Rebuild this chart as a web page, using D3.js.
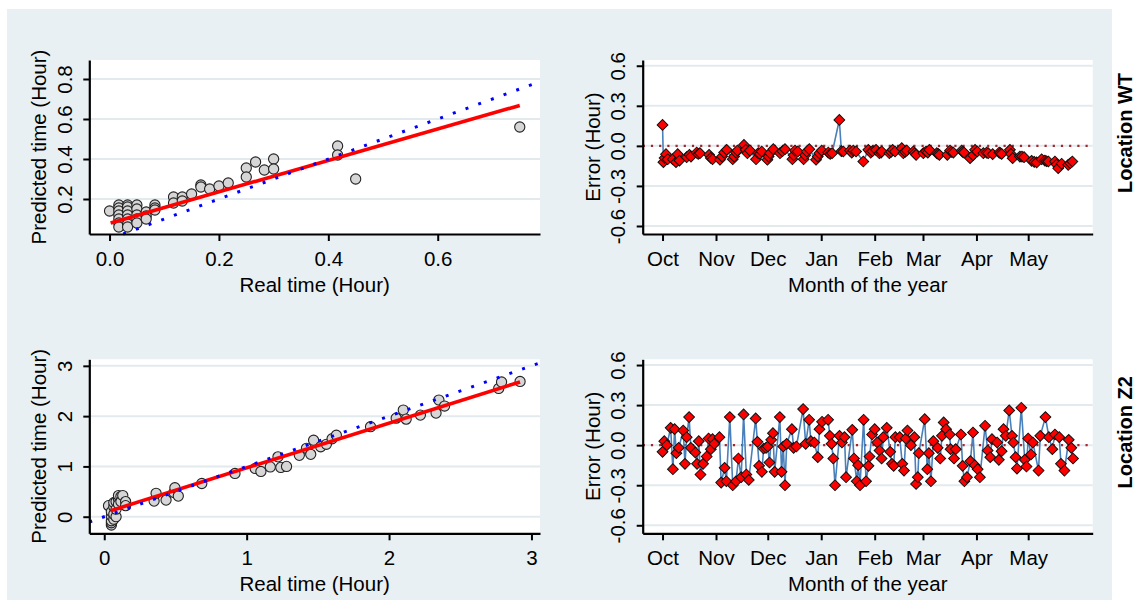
<!DOCTYPE html>
<html>
<head>
<meta charset="utf-8">
<script src="https://cdn.jsdelivr.net/npm/d3@7"></script>
<style>
  body { margin: 0; background: #fff; }
  svg text { font-family: "Liberation Sans", Arial, sans-serif; }
</style>
</head>
<body>
<div id="chart"></div>
<script>
// ---- data ----
// scatter: [real time, predicted time] in hours
const wtPoints = [
  [0.0, 0.14],
  [0.017, 0.17], [0.017, 0.155], [0.017, 0.14], [0.017, 0.12], [0.017, 0.10], [0.017, 0.08], [0.017, 0.06],
  [0.033, 0.17], [0.033, 0.16], [0.033, 0.14], [0.033, 0.12], [0.033, 0.10], [0.033, 0.075], [0.033, 0.06],
  [0.05, 0.17], [0.05, 0.15], [0.05, 0.12], [0.05, 0.10], [0.05, 0.08],
  [0.067, 0.135], [0.067, 0.115], [0.067, 0.10],
  [0.083, 0.17], [0.083, 0.155], [0.083, 0.145],
  [0.117, 0.21], [0.117, 0.18], [0.133, 0.21], [0.133, 0.19], [0.15, 0.225],
  [0.167, 0.27], [0.167, 0.26], [0.183, 0.25], [0.2, 0.265], [0.217, 0.28],
  [0.25, 0.355], [0.25, 0.31], [0.267, 0.385], [0.283, 0.345], [0.3, 0.40], [0.3, 0.35],
  [0.417, 0.465], [0.417, 0.42], [0.45, 0.30], [0.75, 0.56]
];
const z2Points = [
  [0.03, 0.22], [0.05, -0.165], [0.05, -0.12], [0.05, -0.08], [0.05, 0.02], [0.05, 0.1],
  [0.067, -0.05], [0.067, 0.05], [0.067, 0.2], [0.067, 0.28], [0.083, 0.0], [0.083, 0.15], [0.083, 0.3],
  [0.1, 0.35], [0.1, 0.42], [0.1, 0.25], [0.117, 0.4], [0.117, 0.3], [0.13, 0.42], [0.15, 0.3], [0.15, 0.22],
  [0.35, 0.31], [0.364, 0.465], [0.434, 0.33], [0.49, 0.48], [0.496, 0.577], [0.52, 0.41], [0.685, 0.66],
  [0.918, 0.86], [1.06, 0.96], [1.1, 0.9], [1.166, 0.99], [1.22, 1.19], [1.24, 0.98], [1.28, 1.0],
  [1.37, 1.22], [1.42, 1.36], [1.45, 1.24], [1.47, 1.52], [1.52, 1.39], [1.56, 1.44], [1.6, 1.55], [1.63, 1.62],
  [1.87, 1.79], [2.05, 1.96], [2.1, 2.12], [2.12, 1.94], [2.22, 2.02], [2.33, 2.06], [2.35, 2.32], [2.39, 2.2],
  [2.77, 2.55], [2.79, 2.68], [2.92, 2.69]
];
// linear fit end points [real, predicted]
const wtFit = [[0.002, 0.08], [0.75, 0.668]];
const z2Fit = [[0.045, 0.12], [2.92, 2.68]];

// error series: [days since 1 Oct, error in hours]
const wtErrors = [
  [0, 0.157], [0.5, -0.122], [1.2, -0.09], [2, -0.062], [3, -0.1], [5.9, -0.1], [7.8, -0.122], [8.8, -0.062], [9.8, -0.11],
  [14, -0.085], [15.6, -0.067], [16.5, -0.08], [19.8, -0.05], [20.7, -0.06], [21.7, -0.055], [27, -0.067], [28, -0.09],
  [29, -0.1], [33.3, -0.104], [34.5, -0.08], [35.7, -0.05], [37.2, -0.03], [40.7, -0.1], [41.5, -0.08], [42.6, -0.05],
  [43.4, -0.035], [47.2, 0.007], [48.2, -0.03], [49.2, -0.055], [50.7, -0.035], [54.2, -0.1], [55.5, -0.055],
  [56.5, -0.06], [57.5, -0.042], [60.8, -0.104], [61.5, -0.08], [62.3, -0.055], [64.2, -0.025], [68.1, -0.055],
  [69.5, -0.04], [71, -0.025], [75.3, -0.1], [76, -0.07], [76.8, -0.035], [78.4, -0.042], [81.8, -0.1], [82.7, -0.07],
  [83.6, -0.042], [85.1, -0.025], [89, -0.104], [90, -0.08], [90.9, -0.055], [92.3, -0.035], [96.1, -0.05],
  [97.2, -0.06], [98.3, -0.055], [102.5, 0.194], [103.7, -0.04], [104.8, -0.042], [108.7, -0.035], [109.7, -0.05],
  [110.6, -0.035], [112.2, -0.042], [116.4, -0.117], [119.3, -0.03], [120.7, -0.05], [121.7, -0.04], [123.8, -0.03],
  [125.7, -0.055], [126.7, -0.05], [127.1, -0.042], [131.5, -0.055], [132.5, -0.045], [133.4, -0.03], [134.8, -0.042],
  [138.7, -0.017], [139.6, -0.055], [140.6, -0.045], [141.6, -0.035], [145.4, -0.042], [146.2, -0.055], [147, -0.067],
  [151.2, -0.055], [152.8, -0.042], [153.8, -0.05], [154.7, -0.03], [159, -0.055], [159.8, -0.06], [160.5, -0.067],
  [165.1, -0.067], [166.7, -0.035], [167.6, -0.045], [168.6, -0.05], [173.4, -0.035], [174, -0.045], [174.8, -0.05],
  [178.3, -0.092], [180, -0.07], [181.2, -0.03], [182.5, -0.042], [186, -0.055], [187.9, -0.05], [188.8, -0.055],
  [191.4, -0.062], [195.2, -0.05], [195.9, -0.055], [196.6, -0.06], [201.4, -0.03], [202, -0.06], [203, -0.092],
  [207.2, -0.08], [208.4, -0.08], [209.6, -0.085], [214, -0.112], [215.5, -0.12], [216.9, -0.124], [219.8, -0.1],
  [221.7, -0.11], [222.7, -0.115], [223.7, -0.117], [227.5, -0.117], [228.5, -0.14], [229.4, -0.167], [231.4, -0.134],
  [235.2, -0.142], [236.4, -0.13], [237.6, -0.117]
];
const z2Errors = [
  [0, -0.05], [1, 0.03], [2.5, 0.0], [4.7, 0.13], [6, -0.18], [7, 0.12], [8, -0.06], [9.4, -0.02], [12, 0.11],
  [13, -0.14], [14, 0.06], [15.4, 0.21], [16.4, -0.02], [19, -0.055], [20, -0.14], [21, 0.03], [22, -0.22],
  [23.5, -0.14], [25.6, -0.085], [26.7, 0.05], [28, -0.03], [29, 0.045], [30, 0.01], [33, 0.06], [34, -0.28],
  [36, -0.17], [37, -0.27], [39, 0.21], [40.7, -0.3], [42.6, -0.27], [44, -0.1], [45.6, -0.24], [47, 0.23],
  [48.6, -0.22], [50, -0.26], [54, 0.2], [55, 0.025], [56, -0.155], [57.6, -0.2], [58.6, -0.025], [60, -0.02],
  [61, -0.01], [62, -0.13], [63, 0.04], [64, 0.09], [65, -0.2], [68, 0.21], [69, -0.2], [70, -0.01], [71, -0.3],
  [72, 0.01], [75, 0.12], [76, -0.02], [77.6, -0.01], [81.5, 0.27], [83, 0.01], [85, 0.19], [86, 0.03], [88, 0.02],
  [90, -0.09], [91, 0.12], [92.5, 0.175], [96, 0.19], [97, 0.07], [98, 0.01], [99, -0.1], [100, -0.3],
  [102.6, 0.07], [104, 0.02], [105.5, 0.06], [106.4, -0.24], [110, 0.115], [111, -0.1], [112.6, -0.27],
  [113.4, -0.15], [114.5, -0.3], [116.6, 0.19], [118, -0.27], [119.4, -0.155], [120, -0.085], [121.5, 0.08],
  [123, 0.12], [124.5, 0.02], [125.8, -0.04], [127, -0.1], [128, 0.06], [130, 0.13], [132, -0.05], [133, -0.14],
  [134, -0.155], [135, 0.06], [137.5, 0.06], [139, -0.14], [140, -0.19], [141, 0.05], [142, 0.11], [144, 0.0],
  [146, 0.06], [147, -0.29], [148, -0.24], [148.6, -0.06], [152, 0.195], [153.5, -0.18], [154.4, -0.06],
  [155.6, -0.27], [157, 0.03], [159.5, -0.02], [161, -0.1], [162, 0.07], [163, 0.17], [164.4, 0.12], [166.5, 0.08],
  [167, -0.03], [169, -0.1], [170, -0.03], [173, 0.08], [174, -0.155], [175, -0.27], [176.5, -0.24], [178.5, -0.12],
  [180, 0.095], [181, -0.15], [182.7, -0.18], [184, -0.24], [187, 0.145], [188.5, -0.04], [190, -0.09], [191, 0.045],
  [194, 0.02], [195, -0.11], [196.6, -0.045], [197.7, 0.12], [199, 0.07], [201, 0.26], [202.6, 0.07], [203.4, 0.02],
  [204.7, -0.09], [205.5, -0.175], [208, 0.28], [210, -0.11], [211, -0.16], [212, 0.05], [213.6, -0.07],
  [214.7, 0.02], [218, -0.19], [219, 0.07], [222, 0.21], [224, 0.06], [226, -0.03], [227.5, 0.08], [230, 0.06],
  [231, -0.14], [233, -0.19], [235.5, 0.04], [237, -0.02], [238, -0.1]
];

const wtXTicks = [0, 0.2, 0.4, 0.6];
const wtYTicks = [0.2, 0.4, 0.6, 0.8];
const z2Ticks = [0, 1, 2, 3];
const errTicks = [-0.6, -0.3, 0, 0.3, 0.6];
const monthLabels = ['Oct', 'Nov', 'Dec', 'Jan', 'Feb', 'Mar', 'Apr', 'May'];
const locations = ['Location WT', 'Location Z2'];

// ---- layout ----
const width = 1136, height = 600;
const fontSize = 20.5;
const startDate = new Date(2018, 9, 1);
const dayToDate = d => new Date(startDate.getTime() + d * 864e5);
// one decimal, plain hyphen for negatives
const fmt1 = d => d.toFixed(1);

const svg = d3.select('#chart').append('svg')
  .attr('width', width)
  .attr('height', height);

svg.append('rect')
  .attr('x', 7).attr('y', 9)
  .attr('width', 1105).attr('height', 591)
  .attr('fill', '#e9f0f3');

const rows = [{ top: 60, bottom: 234 }, { top: 359.3, bottom: 533.3 }];
const leftBox = { left: 89.3, right: 540 };
const rightBox = { left: 642.7, right: 1092.7 };

// draws white plot area, gridlines, axes and titles; returns a group for marks
function frame(box, row, x, y, opt) {
  const g = svg.append('g');
  g.append('rect')
    .attr('x', box.left).attr('y', row.top)
    .attr('width', box.right - box.left).attr('height', row.bottom - row.top)
    .attr('fill', '#fff');

  g.selectAll('.grid')
    .data(opt.yTicks)
    .join('line')
    .attr('x1', box.left).attr('x2', box.right)
    .attr('y1', d => y(d)).attr('y2', d => y(d))
    .attr('stroke', '#e3eaee')
    .attr('stroke-width', 2);

  const marks = g.append('g');

  const yAxis = g.append('g')
    .attr('transform', `translate(${box.left},0)`)
    .call(d3.axisLeft(y).tickValues(opt.yTicks).tickFormat(opt.yFormat).tickSize(6).tickSizeOuter(0));
  yAxis.selectAll('text')
    .attr('transform', 'rotate(-90)')
    .attr('x', 0).attr('y', -17.5).attr('dy', 0)
    .attr('text-anchor', 'middle');

  const xAxis = g.append('g')
    .attr('transform', `translate(0,${row.bottom})`)
    .call(d3.axisBottom(x).tickValues(opt.xTicks).tickFormat(opt.xFormat).tickSize(7).tickSizeOuter(0));
  xAxis.selectAll('text').attr('y', 32).attr('dy', 0);

  for (const a of [xAxis, yAxis]) {
    a.attr('font-size', fontSize).attr('font-family', '"Liberation Sans", Arial, sans-serif');
    a.selectAll('text').attr('fill', '#000');
    a.selectAll('line').attr('stroke', '#000').attr('stroke-width', 2);
    a.select('.domain').attr('stroke', '#000').attr('stroke-width', 2.2);
  }

  const cy = (row.top + row.bottom) / 2;
  g.append('text')
    .attr('transform', `translate(${box.left - 43},${cy}) rotate(-90)`)
    .attr('text-anchor', 'middle')
    .attr('font-size', fontSize)
    .text(opt.yTitle);
  g.append('text')
    .attr('x', (box.left + box.right) / 2)
    .attr('y', row.bottom + 58)
    .attr('text-anchor', 'middle')
    .attr('font-size', fontSize)
    .text(opt.xTitle);

  return marks;
}

function scatterPanel(row, points, fit, xDomain, yDomain, xTicks, yTicks, fmt) {
  const x = d3.scaleLinear().domain(xDomain).range([leftBox.left, leftBox.right]);
  const y = d3.scaleLinear().domain(yDomain).range([row.bottom, row.top]);
  const g = frame(leftBox, row, x, y, {
    xTicks, yTicks, xFormat: fmt, yFormat: fmt,
    xTitle: 'Real time (Hour)', yTitle: 'Predicted time (Hour)'
  });

  g.selectAll('circle')
    .data(points)
    .join('circle')
    .attr('cx', d => x(d[0]))
    .attr('cy', d => y(d[1]))
    .attr('r', 5.1)
    .attr('fill', '#d6d6d6')
    .attr('stroke', '#222')
    .attr('stroke-width', 1.1);

  g.append('path')
    .attr('d', d3.line().x(d => x(d[0])).y(d => y(d[1]))(fit))
    .attr('stroke', '#ff0000')
    .attr('stroke-width', 3.6)
    .attr('fill', 'none');

  // y = x reference line across the plot region
  const lo = Math.max(xDomain[0], yDomain[0]);
  const hi = Math.min(xDomain[1], yDomain[1]);
  g.append('path')
    .attr('d', d3.line().x(d => x(d)).y(d => y(d))([lo, hi]))
    .attr('stroke', '#0000ff')
    .attr('stroke-width', 3)
    .attr('stroke-dasharray', '3 10.5')
    .attr('fill', 'none');
}

function errorPanel(row, series, label) {
  const x = d3.scaleTime()
    .domain([dayToDate(-11.5), dayToDate(249.4)])
    .range([rightBox.left, rightBox.right]);
  const y = d3.scaleLinear().domain([-0.66, 0.643]).range([row.bottom, row.top]);
  const months = d3.timeMonth.range(startDate, dayToDate(213));
  const g = frame(rightBox, row, x, y, {
    xTicks: months, yTicks: errTicks,
    xFormat: (d, i) => monthLabels[i], yFormat: fmt1,
    xTitle: 'Month of the year', yTitle: 'Error (Hour)'
  });

  g.append('line')
    .attr('x1', rightBox.left).attr('x2', rightBox.right)
    .attr('y1', y(0)).attr('y2', y(0))
    .attr('stroke', '#a3262e')
    .attr('stroke-width', 2.2)
    .attr('stroke-dasharray', '2.2 6');

  g.append('path')
    .attr('d', d3.line().x(d => x(dayToDate(d[0]))).y(d => y(d[1]))(series))
    .attr('stroke', '#4a80b9')
    .attr('stroke-width', 1.6)
    .attr('fill', 'none');

  g.selectAll('.pt')
    .data(series)
    .join('path')
    .attr('d', d3.symbol(d3.symbolSquare, 58))
    .attr('transform', d => `translate(${x(dayToDate(d[0]))},${y(d[1])}) rotate(45)`)
    .attr('fill', '#ff0000')
    .attr('stroke', '#111')
    .attr('stroke-width', 1);

  svg.append('text')
    .attr('transform', `translate(1132,${(row.top + row.bottom) / 2 - 14}) rotate(-90)`)
    .attr('text-anchor', 'middle')
    .attr('font-size', 20)
    .attr('font-weight', 'bold')
    .text(label);
}

scatterPanel(rows[0], wtPoints, wtFit, [-0.037, 0.787], [0.025, 0.895], wtXTicks, wtYTicks, fmt1);
errorPanel(rows[0], wtErrors, locations[0]);
scatterPanel(rows[1], z2Points, z2Fit, [-0.105, 3.06], [-0.33, 3.13], z2Ticks, z2Ticks, d3.format('d'));
errorPanel(rows[1], z2Errors, locations[1]);
</script>
</body>
</html>
